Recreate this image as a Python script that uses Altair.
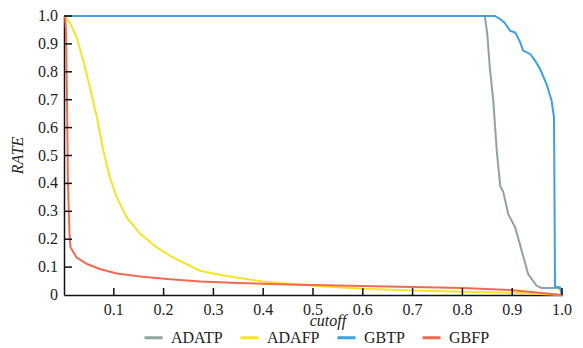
import altair as alt
import pandas as pd

series_names = ["ADATP", "ADAFP", "GBTP", "GBFP"]
series_colors = ["#8fa3a3", "#f4e424", "#3da1dc", "#f26a4f"]

adatp_x = [0.0, 0.845, 0.85, 0.855, 0.862, 0.869, 0.876, 0.882, 0.892, 0.906, 0.919, 0.932, 0.949, 0.959, 0.996, 1.0]
adatp_y = [1.0, 1.0, 0.935, 0.816, 0.697, 0.517, 0.39, 0.37, 0.29, 0.242, 0.159, 0.075, 0.033, 0.025, 0.025, 0.0]

adafp_x = [0.0, 0.012, 0.0255, 0.0388, 0.052, 0.066, 0.079, 0.092, 0.106, 0.126, 0.153, 0.186, 0.219, 0.273, 0.32, 0.4, 0.5, 0.6, 0.7, 0.8, 0.9, 1.0]
adafp_y = [1.0, 0.975, 0.923, 0.84, 0.744, 0.637, 0.517, 0.421, 0.35, 0.278, 0.219, 0.171, 0.135, 0.087, 0.07, 0.048, 0.033, 0.022, 0.016, 0.012, 0.008, 0.0]

gbtp_x = [0.0, 0.865, 0.876, 0.885, 0.896, 0.906, 0.915, 0.922, 0.936, 0.946, 0.956, 0.969, 0.979, 0.984, 0.986, 0.996, 1.0]
gbtp_y = [1.0, 1.0, 0.989, 0.975, 0.947, 0.941, 0.91, 0.876, 0.864, 0.84, 0.81, 0.756, 0.697, 0.637, 0.03, 0.027, 0.0]

gbfp_x = [0.002, 0.004, 0.006, 0.008, 0.011, 0.013, 0.025, 0.046, 0.072, 0.106, 0.153, 0.207, 0.273, 0.35, 0.45, 0.55, 0.675, 0.8, 0.896, 1.0]
gbfp_y = [1.0, 0.95, 0.7, 0.4, 0.22, 0.171, 0.135, 0.111, 0.093, 0.077, 0.066, 0.057, 0.048, 0.043, 0.038, 0.034, 0.03, 0.025, 0.018, 0.0]

x_ticks = [0.1, 0.2, 0.3, 0.4, 0.5, 0.6, 0.7, 0.8, 0.9, 1.0]
x_labels = ["0.1", "0.2", "0.3", "0.4", "0.5", "0.6", "0.7", "0.8", "0.9", "1.0"]
y_ticks = [0.0, 0.1, 0.2, 0.3, 0.4, 0.5, 0.6, 0.7, 0.8, 0.9, 1.0]
y_labels = ["0", "0.1", "0.2", "0.3", "0.4", "0.5", "0.6", "0.7", "0.8", "0.9", "1.0"]
x_title = ["cutoff"]
y_title = ["RATE"]

rows = []
for name, xs, ys in [("ADATP", adatp_x, adatp_y), ("ADAFP", adafp_x, adafp_y),
                     ("GBTP", gbtp_x, gbtp_y), ("GBFP", gbfp_x, gbfp_y)]:
    for i, (a, b) in enumerate(zip(xs, ys)):
        rows.append({"series": name, "cutoff": a, "rate": b, "order": i})
df = pd.DataFrame(rows)

FONT = "Liberation Serif"
xscale = alt.Scale(domain=[0, 1], nice=False, zero=False)
yscale = alt.Scale(domain=[0, 1], nice=False, zero=False)

xaxis = alt.Axis(title=None, labels=False, ticks=False, grid=False,
                 domainColor="#111", domainWidth=1.5)
yaxis = alt.Axis(title=None, labels=False, ticks=False, grid=False,
                 domainColor="#111", domainWidth=1.5)

lines = alt.Chart(df).mark_line(strokeWidth=2).encode(
    x=alt.X("cutoff:Q", scale=xscale, axis=xaxis),
    y=alt.Y("rate:Q", scale=yscale, axis=yaxis),
    color=alt.Color("series:N", scale=alt.Scale(domain=series_names, range=series_colors),
                    legend=alt.Legend(title=None, orient="none", legendX=79, legendY=311,
                                      direction="horizontal", columns=4, columnPadding=11,
                                      symbolType="stroke", symbolSize=324, symbolStrokeWidth=3,
                                      labelFont=FONT, labelFontSize=16, labelColor="#222",
                                      labelOffset=7)),
    order="order:Q",
)

xt = alt.Chart(pd.DataFrame({"v": x_ticks})).mark_rule(color="#111", strokeWidth=1.5).encode(
    x=alt.X("v:Q", scale=xscale, axis=xaxis), y=alt.value(279), y2=alt.value(272))
yt = alt.Chart(pd.DataFrame({"v": y_ticks[1:]})).mark_rule(color="#111", strokeWidth=1.5).encode(
    y=alt.Y("v:Q", scale=yscale, axis=yaxis), x=alt.value(0), x2=alt.value(8))

xl = alt.Chart(pd.DataFrame({"v": x_ticks, "t": x_labels})).mark_text(
    font=FONT, fontSize=16, color="#222", align="center", baseline="top").encode(
    x=alt.X("v:Q", scale=xscale, axis=xaxis), y=alt.value(286), text="t:N")
yl = alt.Chart(pd.DataFrame({"v": y_ticks, "t": y_labels})).mark_text(
    font=FONT, fontSize=16, color="#222", align="right", baseline="middle").encode(
    y=alt.Y("v:Q", scale=yscale, axis=yaxis), x=alt.value(-6), text="t:N")

xtl = alt.Chart(pd.DataFrame({"v": [0.53], "t": x_title})).mark_text(
    font=FONT, fontSize=16, fontStyle="italic", color="#222", align="center", baseline="middle").encode(
    x=alt.X("v:Q", scale=xscale, axis=xaxis), y=alt.value(305), text="t:N")
ytl = alt.Chart(pd.DataFrame({"v": [0.5], "t": y_title})).mark_text(
    font=FONT, fontSize=16, fontStyle="italic", color="#222", align="center", baseline="middle",
    angle=270).encode(
    y=alt.Y("v:Q", scale=yscale, axis=yaxis), x=alt.value(-46), text="t:N")

chart = alt.layer(lines, xt, yt, xl, yl, xtl, ytl).properties(
    width=498, height=279,
    autosize=alt.AutoSizeParams(type="none"),
    padding={"left": 56, "top": 8, "right": 13, "bottom": 53},
).configure_view(strokeWidth=0)

chart.save("out.html", embed_options={"renderer": "svg", "actions": False})
